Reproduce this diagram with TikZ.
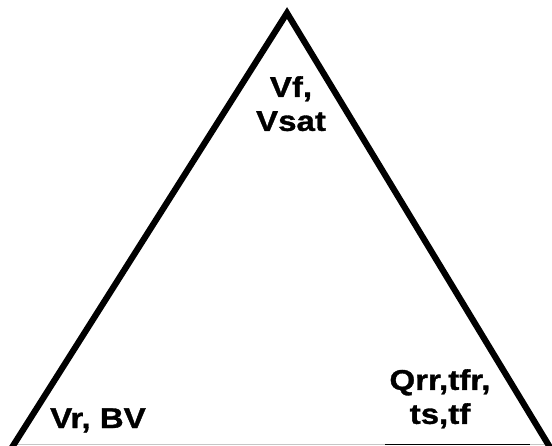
\documentclass[tikz,border=0pt]{standalone}
\usepackage{fontspec}
\setmainfont{Liberation Sans}[FakeStretch=1.16, BoldFeatures={FakeBold=1.2}]

\tikzset{
    side/.style={line width=6.2pt, line join=miter},
    param/.style={font=\bfseries\fontsize{28.5}{34}\selectfont, align=center, inner sep=0pt},
}

\begin{document}
\begin{tikzpicture}[x=1pt,y=-1pt]

    \useasboundingbox (0,0) rectangle (552,445);

    % corners of the triangle
    \coordinate (apex) at (287,13);
    \coordinate (left) at (11,449);
    \coordinate (right) at (551,449);

    % base line
    \draw[gray!45, line width=1pt] (12,444) -- (550,444);
    \draw[black, line width=1pt] (385,444) -- (530,444);

    \draw[side] (left) -- (apex) -- (right);

    % parameters at the corners
    \node[param, anchor=north] (vf) at (291,76) {Vf,\\Vsat};
    \node[param, anchor=base west] (vr) at (50,428) {Vr, BV};
    \node[param, anchor=north] (qrr) at (440,369) {Qrr,tfr,\\ts,tf};

\end{tikzpicture}
\end{document}
